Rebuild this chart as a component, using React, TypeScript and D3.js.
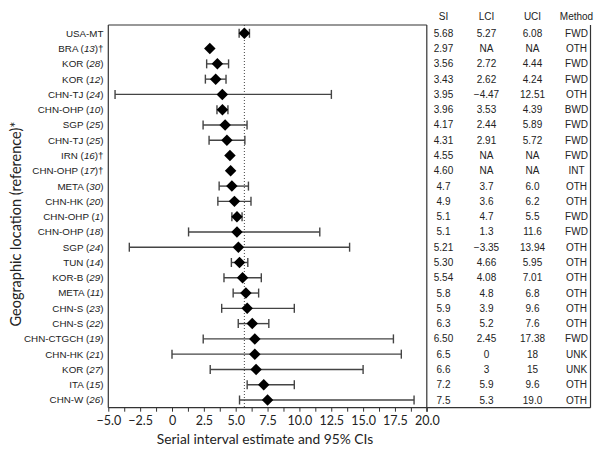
import React, { useRef, useEffect } from 'react';
import * as d3 from 'd3';

const locations = ['USA-MT', 'BRA', 'KOR', 'KOR', 'CHN-TJ', 'CHN-OHP', 'SGP', 'CHN-TJ', 'IRN', 'CHN-OHP', 'META', 'CHN-HK', 'CHN-OHP', 'CHN-OHP', 'SGP', 'TUN', 'KOR-B', 'META', 'CHN-S', 'CHN-S', 'CHN-CTGCH', 'CHN-HK', 'KOR', 'ITA', 'CHN-W'];
const refs = ['', '13', '28', '12', '24', '10', '25', '25', '16', '17', '30', '20', '1', '18', '24', '14', '29', '11', '23', '22', '19', '21', '27', '15', '26'];
const daggers = [false, true, false, false, false, false, false, false, true, true, false, false, false, false, false, false, false, false, false, false, false, false, false, false, false];
const siLabels = ['5.68', '2.97', '3.56', '3.43', '3.95', '3.96', '4.17', '4.31', '4.55', '4.60', '4.7', '4.9', '5.1', '5.1', '5.21', '5.30', '5.54', '5.8', '5.9', '6.3', '6.50', '6.5', '6.6', '7.2', '7.5'];
const lciLabels = ['5.27', 'NA', '2.72', '2.62', '\u22124.47', '3.53', '2.44', '2.91', 'NA', 'NA', '3.7', '3.6', '4.7', '1.3', '\u22123.35', '4.66', '4.08', '4.8', '3.9', '5.2', '2.45', '0', '3', '5.9', '5.3'];
const uciLabels = ['6.08', 'NA', '4.44', '4.24', '12.51', '4.39', '5.89', '5.72', 'NA', 'NA', '6.0', '6.2', '5.5', '11.6', '13.94', '5.95', '7.01', '6.8', '9.6', '7.6', '17.38', '18', '15', '9.6', '19.0'];
const methods = ['FWD', 'OTH', 'FWD', 'FWD', 'OTH', 'BWD', 'FWD', 'FWD', 'FWD', 'INT', 'OTH', 'OTH', 'FWD', 'FWD', 'OTH', 'OTH', 'OTH', 'OTH', 'OTH', 'OTH', 'FWD', 'UNK', 'UNK', 'OTH', 'OTH'];
const referenceLine = 5.68;

const num = (s: string) => (s === 'NA' ? NaN : +s.replace('\u2212', '-'));

const App = () => {
  const svgRef = useRef<SVGSVGElement>(null);

  useEffect(() => {
    const w = 600;
    const h = 453;
    const left = 108.3, right = 426.8, top = 25, bottom = 407.7, tableRight = 590.5;
    const svg = d3.select(svgRef.current).attr('width', w).attr('height', h);
    svg.selectAll('*').remove();

    const rows = locations.map((loc, i) => ({
      loc, ref: refs[i], dagger: daggers[i],
      si: num(siLabels[i]), lci: num(lciLabels[i]), uci: num(uciLabels[i]), i,
    }));

    const x = d3.scaleLinear().domain([-5, 20]).range([left, right]);
    const y = d3.scalePoint<number>().domain(rows.map((d) => d.i)).range([33.3, 400]);

    const lineColor = '#333';
    const sans = 'Liberation Sans, Arial, sans-serif';
    const calibri = 'Lato, sans-serif';

    // frame lines
    const frame = svg.append('g').attr('stroke', lineColor).attr('stroke-width', 1.2).attr('fill', 'none');
    frame.append('line').attr('x1', left).attr('x2', right).attr('y1', top).attr('y2', top);
    frame.append('line').attr('x1', left).attr('x2', left).attr('y1', top).attr('y2', bottom);
    frame.append('line').attr('x1', right).attr('x2', right).attr('y1', top).attr('y2', bottom + 4);
    frame.append('line').attr('x1', tableRight).attr('x2', tableRight).attr('y1', top).attr('y2', bottom);
    frame.append('line').attr('x1', left).attr('x2', tableRight).attr('y1', bottom).attr('y2', bottom);

    // x axis
    const xAxis = d3.axisBottom(x)
      .tickValues(d3.range(-5, 20.01, 1.25))
      .tickSize(4)
      .tickFormat((d) => {
        const v = +d;
        if (Math.abs(v / 2.5 - Math.round(v / 2.5)) > 1e-6) return '';
        return v === 0 ? '0' : d3.format('.1f')(v);
      });
    const gx = svg.append('g').attr('transform', `translate(0,${bottom})`).call(xAxis);
    gx.select('.domain').remove();
    gx.selectAll('line').attr('stroke', lineColor).attr('stroke-width', 1);
    gx.selectAll('text').attr('font-family', calibri).attr('font-size', 12.5).attr('fill', '#222').attr('dy', '0.85em');

    svg.append('text').attr('x', 265).attr('y', 444)
      .attr('text-anchor', 'middle').attr('font-family', calibri).attr('font-size', 13.8).attr('fill', '#222')
      .text('Serial interval estimate and 95% CIs');

    svg.append('text').attr('transform', 'translate(21,224) rotate(-90)')
      .attr('text-anchor', 'middle').attr('font-family', calibri).attr('font-size', 14.5).attr('fill', '#222')
      .text('Geographic location (reference)*');

    // reference line
    svg.append('line').attr('x1', x(referenceLine)).attr('x2', x(referenceLine))
      .attr('y1', top).attr('y2', bottom)
      .attr('stroke', '#444').attr('stroke-width', 1).attr('stroke-dasharray', '1,2');

    // row labels
    const labels = svg.append('g').attr('font-family', sans).attr('font-size', 9.8).attr('fill', '#222');
    rows.forEach((d) => {
      const t = labels.append('text').attr('x', 103.5).attr('y', y(d.i)!).attr('dy', '0.35em').attr('text-anchor', 'end');
      t.append('tspan').text(d.loc);
      if (d.ref) {
        t.append('tspan').text(' (');
        t.append('tspan').attr('font-style', 'italic').text(d.ref);
        t.append('tspan').text(')');
      }
      if (d.dagger) t.append('tspan').text('\u2020');
    });

    // error bars
    const ci = rows.filter((d) => !isNaN(d.lci));
    const bars = svg.append('g').attr('stroke', '#444').attr('stroke-width', 1.4);
    bars.selectAll('.ci').data(ci).join('line')
      .attr('x1', (d) => x(d.lci)).attr('x2', (d) => x(d.uci))
      .attr('y1', (d) => y(d.i)!).attr('y2', (d) => y(d.i)!);
    bars.selectAll('.capl').data(ci).join('line')
      .attr('x1', (d) => x(d.lci)).attr('x2', (d) => x(d.lci))
      .attr('y1', (d) => y(d.i)! - 4.5).attr('y2', (d) => y(d.i)! + 4.5);
    bars.selectAll('.capr').data(ci).join('line')
      .attr('x1', (d) => x(d.uci)).attr('x2', (d) => x(d.uci))
      .attr('y1', (d) => y(d.i)! - 4.5).attr('y2', (d) => y(d.i)! + 4.5);

    // diamonds
    const diamond = d3.symbol().type(d3.symbolSquare).size(66);
    svg.append('g').selectAll('path').data(rows).join('path')
      .attr('d', diamond)
      .attr('transform', (d) => `translate(${x(d.si)},${y(d.i)}) rotate(45)`)
      .attr('fill', '#000');

    // table
    const cols = [
      { head: 'SI', cx: 443.5, vals: siLabels },
      { head: 'LCI', cx: 486.5, vals: lciLabels },
      { head: 'UCI', cx: 532.5, vals: uciLabels },
      { head: 'Method', cx: 576.5, vals: methods },
    ];
    const table = svg.append('g').attr('font-family', sans).attr('font-size', 10).attr('fill', '#222').attr('text-anchor', 'middle');
    cols.forEach((c) => {
      table.append('text').attr('x', c.cx).attr('y', 16).attr('dy', '0.35em').text(c.head);
      table.selectAll(null).data(c.vals).join('text')
        .attr('x', c.cx).attr('y', (_, i) => y(i)!).attr('dy', '0.35em')
        .text((v) => v);
    });
  }, []);

  return (
    <div>
      <svg ref={svgRef} style={{ position: 'absolute', left: 0, top: 0 }}></svg>
    </div>
  );
};

export default App;
